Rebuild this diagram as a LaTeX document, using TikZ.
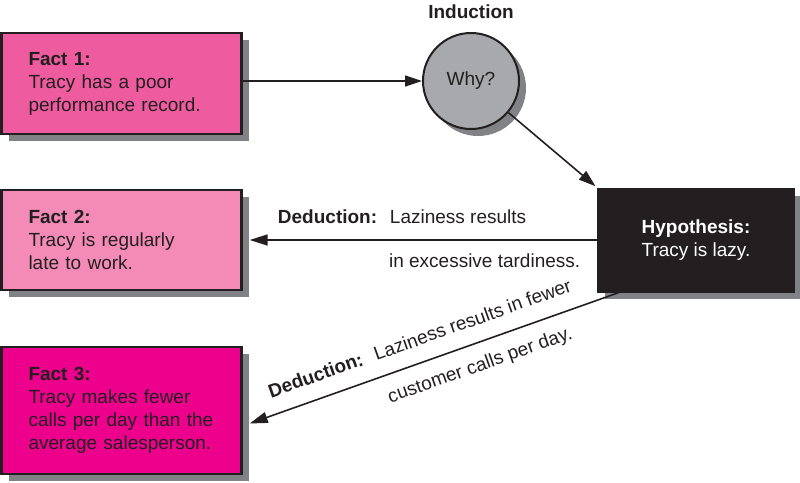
\documentclass[tikz,border=0pt]{standalone}
\usepackage{fontspec}
\setmainfont{Liberation Sans}
\usetikzlibrary{positioning,shadows,arrows.meta}

\definecolor{factone}{HTML}{EF5B9F}
\definecolor{facttwo}{HTML}{F38BB6}
\definecolor{factthree}{HTML}{EC008C}
\definecolor{whygray}{HTML}{A7A9AC}
\definecolor{shadowgray}{HTML}{808285}
\definecolor{inkdark}{HTML}{231F20}

\tikzset{
  basefont/.style={font=\fontsize{19}{23}\selectfont, text=inkdark},
  boxshadow/.style={drop shadow={shadow xshift=7pt, shadow yshift=-7pt, fill=shadowgray, opacity=1}},
  factbox/.style={basefont, boxshadow, draw=inkdark, line width=2.4pt, minimum width=240pt,
    text width=186pt, inner xsep=27pt, align=left},
  whycirc/.style={basefont, boxshadow, circle, draw=inkdark, fill=whygray, line width=2pt,
    minimum size=96pt, inner sep=0pt},
  hypbox/.style={basefont, boxshadow, draw=inkdark, fill=inkdark, text=white, line width=2pt,
    minimum width=196pt, minimum height=103pt, align=left},
  arr/.style={line width=1.6pt, draw=inkdark, -{Triangle[length=17pt,width=11pt]}},
  dedarrow/.style={line width=1.6pt, draw=inkdark, {Triangle[length=18pt,width=11pt]}-},
  dedtop/.style={basefont, sloped, anchor=south west, inner xsep=0pt, inner ysep=16pt, text depth=0pt},
  dedbottom/.style={basefont, sloped, anchor=north west, inner xsep=0pt, inner ysep=13pt, text height=14pt}
}

\begin{document}
\begin{tikzpicture}[x=1pt, y=-1pt]
  \useasboundingbox (0,0) rectangle (800,482);

  % Facts
  \node[factbox, fill=factone, minimum height=101pt] (fact1) at (121.5,83.5)
    {\textbf{Fact 1:}\\Tracy has a poor\\performance record.};
  \node[factbox, fill=facttwo, minimum height=100pt] (fact2) at (121.5,240)
    {\textbf{Fact 2:}\\Tracy is regularly\\late to work.};
  \node[factbox, fill=factthree, minimum height=127pt] (fact3) at (121.5,410.5)
    {\textbf{Fact 3:}\\Tracy makes fewer\\calls per day than the\\average salesperson.};

  % Induction
  \node[whycirc] (why) at (471,81) {Why?};
  \node[basefont, inner sep=0pt, above=13pt of why] (induct) {\textbf{Induction}};

  % Hypothesis
  \node[hypbox] (hyp) at (696,240) {\textbf{Hypothesis:}\\Tracy is lazy.};

  % Arrow ends
  \coordinate (f2tip) at ([xshift=7pt]fact2.east);
  \coordinate (f3tip) at ([xshift=7pt, yshift=-13pt]fact3.east);
  \coordinate (hypout) at ([xshift=22pt]hyp.south west);

  % Induction arrows
  \draw[arr] (fact1.east |- why) -- (why);
  \draw[arr, shorten >=2pt] (why) -- (hyp.north west);

  % Deduction arrows
  \draw[dedarrow] (f2tip) -- (f2tip -| hyp.west)
    node[dedtop, pos=0.079] (ded2top) {\makebox[112pt][l]{\textbf{Deduction:}}Laziness results}
    node[dedbottom, pos=0.399] (ded2bot) {in excessive tardiness.};
  \draw[dedarrow] (f3tip) -- (hypout)
    node[dedtop, pos=0.071] (ded3top) {\makebox[112pt][l]{\textbf{Deduction:}}Laziness results in fewer}
    node[dedbottom, pos=0.354] (ded3bot) {customer calls per day.};
\end{tikzpicture}
\end{document}
